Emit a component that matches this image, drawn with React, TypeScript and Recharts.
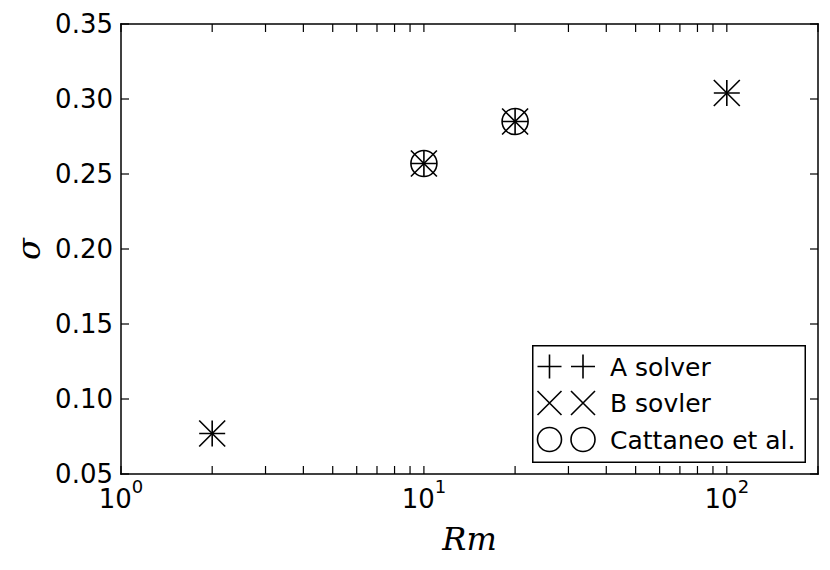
import { ScatterChart, Scatter, XAxis, YAxis, Legend } from 'recharts';

// growth rate sigma vs magnetic Reynolds number
const rmA = [2, 10, 20, 100];
const sigmaA = [0.077, 0.257, 0.285, 0.304];
const rmB = [2, 10, 20, 100];
const sigmaB = [0.077, 0.257, 0.285, 0.304];
const rmCattaneo = [10, 20];
const sigmaCattaneo = [0.257, 0.285];

const seriesNames = ['A solver', 'B sovler', 'Cattaneo et al.'];
const xTicks = [1, 2, 3, 4, 5, 6, 7, 8, 9, 10, 20, 30, 40, 50, 60, 70, 80, 90, 100, 200];
const xMajor = [1, 10, 100];
const yTicks = [0.05, 0.1, 0.15, 0.2, 0.25, 0.3, 0.35];

const toPoints = (xs: number[], ys: number[]) => xs.map((x, i) => ({ x, y: ys[i] }));
const pointsA = toPoints(rmA, sigmaA);
const pointsB = toPoints(rmB, sigmaB);
const pointsC = toPoints(rmCattaneo, sigmaCattaneo);

const FONT = '"DejaVu Sans", sans-serif';
const MATH = '"DejaVu Serif", serif';
const TICK = 8;
const R = 13;
const SW = 1.6;

function markerPath(kind: string, cx: number, cy: number, r: number) {
  if (kind === 'plus') return `M${cx - r},${cy}H${cx + r}M${cx},${cy - r}V${cy + r}`;
  return `M${cx - r},${cy - r}L${cx + r},${cy + r}M${cx - r},${cy + r}L${cx + r},${cy - r}`;
}

function Marker({ kind, cx, cy, r }: { kind: string; cx: number; cy: number; r: number }) {
  if (kind === 'circle') return <circle cx={cx} cy={cy} r={r} fill="none" stroke="#000" strokeWidth={SW} />;
  return <path d={markerPath(kind, cx, cy, r)} fill="none" stroke="#000" strokeWidth={SW} />;
}

const shapeOf = (kind: string) => (props: any) => <Marker kind={kind} cx={props.cx} cy={props.cy} r={R} />;

function BottomTick(props: any) {
  const { x, y, payload } = props;
  const v = payload.value;
  const isMajor = xMajor.includes(v);
  return (
    <g>
      <line x1={x} x2={x} y1={y} y2={y - TICK} stroke="#000" strokeWidth={1.2} />
      {isMajor && (
        <text x={x} y={y + 34} textAnchor="middle" fontFamily={FONT} fontSize={26} fill="#000">
          <tspan>10</tspan>
          <tspan fontSize={18} dy={-15}>{Math.round(Math.log10(v))}</tspan>
        </text>
      )}
    </g>
  );
}

function TopTick(props: any) {
  const { x, y } = props;
  return <line x1={x} x2={x} y1={y} y2={y + TICK} stroke="#000" strokeWidth={1.2} />;
}

function LeftTick(props: any) {
  const { x, y, payload } = props;
  return (
    <g>
      <line x1={x} x2={x + TICK} y1={y} y2={y} stroke="#000" strokeWidth={1.2} />
      <text x={x - 8} y={y + 9} textAnchor="end" fontFamily={FONT} fontSize={26} fill="#000">
        {payload.value.toFixed(2)}
      </text>
    </g>
  );
}

function RightTick(props: any) {
  const { x, y } = props;
  return <line x1={x} x2={x - TICK} y1={y} y2={y} stroke="#000" strokeWidth={1.2} />;
}

function XLabel(props: any) {
  const vb = props.viewBox;
  return (
    <text x={vb.x + vb.width / 2} y={vb.y + 76} textAnchor="middle" fontFamily={MATH} fontStyle="italic" fontSize={32} fill="#000">
      Rm
    </text>
  );
}

function YLabel(props: any) {
  const vb = props.viewBox;
  const cx = vb.x + 40;
  const cy = vb.y + vb.height / 2;
  return (
    <text x={cx} y={cy} transform={`rotate(-90, ${cx}, ${cy})`} textAnchor="middle" fontFamily={MATH} fontStyle="italic" fontSize={32} fill="#000">
      σ
    </text>
  );
}

const legendKinds = [['plus'], ['cross'], ['circle']];

function LegendBox() {
  return (
    <svg width={274} height={118} style={{ display: 'block' }}>
      <rect x={0.75} y={0.75} width={272.5} height={116.5} fill="#fff" stroke="#000" strokeWidth={1.5} />
      {seriesNames.map((name, i) => {
        const cy = 21.5 + i * 36.5;
        return (
          <g key={name}>
            <Marker kind={legendKinds[i][0]} cx={17.5} cy={cy} r={12} />
            <Marker kind={legendKinds[i][0]} cx={51} cy={cy} r={12} />
            <text x={78} y={cy + 9} fontFamily={FONT} fontSize={25} fill="#000">{name}</text>
          </g>
        );
      })}
    </svg>
  );
}

const axisLine = { stroke: '#000', strokeWidth: 1.5, strokeLinecap: 'square' as const };

export default function App() {
  return (
    <div style={{ position: 'absolute', left: 0, top: 0, background: '#fff' }}>
      <ScatterChart width={830} height={570} margin={{ top: 0, right: 0, bottom: 0, left: 0 }}>
        <XAxis
          xAxisId={0}
          dataKey="x"
          type="number"
          scale="log"
          domain={[1, 200]}
          allowDataOverflow
          ticks={xTicks}
          interval={0}
          tick={<BottomTick />}
          tickLine={false}
          tickSize={0}
          tickMargin={0}
          axisLine={axisLine}
          height={96}
          label={{ content: <XLabel /> } as any}
        />
        <XAxis
          xAxisId="top"
          orientation="top"
          dataKey="x"
          type="number"
          scale="log"
          domain={[1, 200]}
          allowDataOverflow
          ticks={xTicks}
          interval={0}
          tick={<TopTick />}
          tickLine={false}
          tickSize={0}
          tickMargin={0}
          axisLine={axisLine}
          height={24}
        />
        <YAxis
          yAxisId={0}
          dataKey="y"
          type="number"
          domain={[0.05, 0.35]}
          allowDataOverflow
          ticks={yTicks}
          interval={0}
          tick={<LeftTick />}
          tickLine={false}
          tickSize={0}
          tickMargin={0}
          axisLine={axisLine}
          width={121}
          label={{ content: <YLabel /> } as any}
        />
        <YAxis
          yAxisId="right"
          orientation="right"
          dataKey="y"
          type="number"
          domain={[0.05, 0.35]}
          allowDataOverflow
          ticks={yTicks}
          interval={0}
          tick={<RightTick />}
          tickLine={false}
          tickSize={0}
          tickMargin={0}
          axisLine={axisLine}
          width={12}
        />
        <Scatter name={seriesNames[0]} data={pointsA} shape={shapeOf('plus')} isAnimationActive={false} />
        <Scatter name={seriesNames[1]} data={pointsB} shape={shapeOf('cross')} isAnimationActive={false} />
        <Scatter name={seriesNames[2]} data={pointsC} shape={shapeOf('circle')} isAnimationActive={false} />
        <Legend
          layout="vertical"
          align="center"
          verticalAlign="middle"
          content={() => <LegendBox />}
          wrapperStyle={{ left: 532, top: 345, width: 274, height: 118 }}
        />
      </ScatterChart>
    </div>
  );
}
